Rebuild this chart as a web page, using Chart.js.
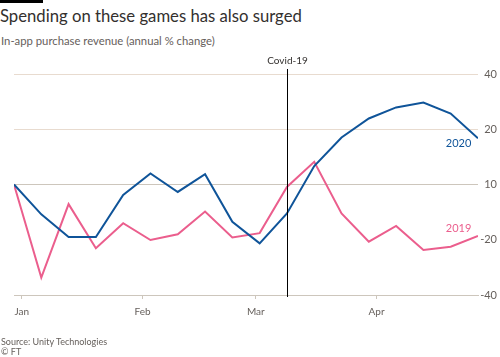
<!DOCTYPE html>
<html><head><meta charset="utf-8">
<script src="https://cdn.jsdelivr.net/npm/chart.js@4"></script>
<style>
html,body{margin:0;padding:0;background:#fff;}
#wrap{position:relative;width:500px;height:357px;overflow:hidden;font-family:Lato,"Open Sans",sans-serif;}
#bar{position:absolute;left:0;top:0;width:43px;height:3px;background:#000;}
#title{position:absolute;left:0;top:6px;font-size:16.7px;color:#33302e;white-space:nowrap;}
#sub{position:absolute;left:1px;top:34px;font-size:11.3px;color:#66605c;white-space:nowrap;}
#src{position:absolute;left:1px;top:337px;font-size:9px;line-height:10px;color:#66605c;white-space:nowrap;}
canvas{position:absolute;left:0;top:0;}
</style></head>
<body><div id="wrap">
<div id="bar"></div>
<div id="title">Spending on these games has also surged</div>
<div id="sub">In-app purchase revenue (annual % change)</div>
<canvas id="c" width="500" height="357"></canvas>
<div id="src">Source: Unity Technologies<br>© FT</div>
</div>
<script>
// week positions in days from 1 Jan 2020
const days = [-2,5,12,19,26,33,40,47,54,61,68,75,82,89,96,103,110,117];
const s2020 = [0,-10.8,-19,-19,-3.8,4,-2.7,3.7,-13.5,-21.3,-10.5,6.7,17,23.9,27.9,29.7,25.7,16.7];
const s2019 = [0,-33.7,-7.1,-23.1,-14,-20.1,-18,-9.8,-19.2,-17.6,-0.9,8.2,-10.5,-20.7,-15,-23.7,-22.5,-18.6];
const monthLabels = ['Jan','Feb','Mar','Apr'];
const monthDays = [0,31,60,91];
const yTickValues = [40,20,0,-20,-40];
const yTickLabels = ['40','20','10','-20','-40'];
const covidDay = 68;
const covidLabel = 'Covid-19';
const seriesNames = ['2020','2019'];

const gridCols = {40:'#e8dbcf',20:'#e8dbcf',0:'#cdc6bc','-20':'rgba(0,0,0,0)','-40':'#cdc6bc'};

const annot = {
  id:'annot',
  afterDatasetsDraw(chart){
    const {ctx, scales:{x,y}} = chart;
    const px = Math.round(x.getPixelForValue(covidDay))+0.5;
    ctx.save();
    ctx.strokeStyle='#000'; ctx.lineWidth=1;
    ctx.beginPath(); ctx.moveTo(px,69); ctx.lineTo(px,297); ctx.stroke();
    ctx.fillStyle='#33302e'; ctx.font='10px Lato, "Open Sans", sans-serif';
    ctx.textAlign='center'; ctx.textBaseline='middle';
    ctx.fillText(covidLabel, px, 61);
    ctx.font='11px Lato, "Open Sans", sans-serif';
    ctx.textAlign='right';
    ctx.fillStyle='#0f5499';
    ctx.fillText(seriesNames[0], x.getPixelForValue(115.3), y.getPixelForValue(15));
    ctx.fillStyle='#eb5e8d';
    ctx.fillText(seriesNames[1], x.getPixelForValue(115.3), y.getPixelForValue(-15.8));
    ctx.restore();
  }
};

new Chart(document.getElementById('c'), {
  type:'line',
  data:{
    datasets:[
      {label:seriesNames[0], data:days.map((d,i)=>({x:d,y:s2020[i]})), borderColor:'#0f5499', borderWidth:2, pointRadius:0, tension:0},
      {label:seriesNames[1], data:days.map((d,i)=>({x:d,y:s2019[i]})), borderColor:'#eb5e8d', borderWidth:2, pointRadius:0, tension:0}
    ]
  },
  options:{
    responsive:false, animation:false,
    layout:{padding:{left:14,right:3,top:74,bottom:0}},
    plugins:{legend:{display:false}, tooltip:{enabled:false}},
    scales:{
      x:{type:'linear', min:-2, max:117,
        afterBuildTicks(s){ s.ticks = monthDays.map(v=>({value:v})); },
        afterFit(s){ s.height = 62; },
        ticks:{callback:(v)=>monthLabels[monthDays.indexOf(v)], color:'#66605c', font:{size:10, family:'Lato, "Open Sans", sans-serif'}, padding:7, maxRotation:0, autoSkip:false},
        grid:{drawOnChartArea:false, drawTicks:true, tickLength:4, color:'#cdc6bc'},
        border:{display:true, color:'#cdc6bc'}
      },
      y:{position:'right', min:-40, max:40,
        afterBuildTicks(s){ s.ticks = yTickValues.map(v=>({value:v})); },
        afterFit(s){ s.width = 19; },
        ticks:{callback:(v)=>yTickLabels[yTickValues.indexOf(v)], color:'#66605c', font:{size:11, family:'Lato, "Open Sans", sans-serif'}, crossAlign:'far', padding:0},
        grid:{color:(c)=>gridCols[c.tick.value], drawTicks:false, lineWidth:1},
        border:{display:false}
      }
    }
  },
  plugins:[annot]
});
</script>
</body></html>
